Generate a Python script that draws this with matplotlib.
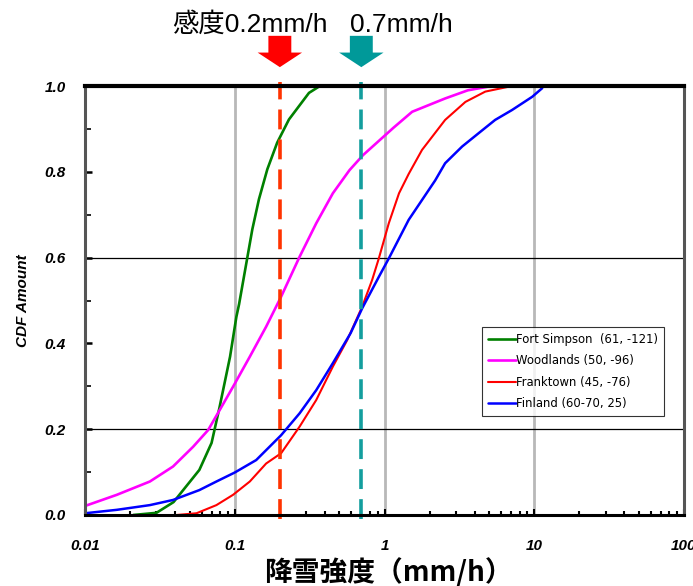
import matplotlib
matplotlib.use("Agg")
import matplotlib.pyplot as plt
from matplotlib.ticker import FixedLocator, LogLocator, NullFormatter
from matplotlib.patches import ArrowStyle

# ---------------- data ----------------
fort_x = [0.021, 0.030, 0.039, 0.058, 0.070, 0.079, 0.093, 0.1025, 0.1068, 0.121,
          0.131, 0.145, 0.165, 0.192, 0.23, 0.313, 0.37, 1.0, 4.5]
fort_y = [0.0, 0.005, 0.03, 0.105, 0.168, 0.25, 0.369, 0.462, 0.491, 0.598,
          0.666, 0.736, 0.806, 0.868, 0.922, 0.984, 1.0, 1.0, 1.0]

wood_x = [0.01, 0.0163, 0.0271, 0.0387, 0.0527, 0.0664, 0.0794, 0.0974, 0.126, 0.162,
          0.204, 0.271, 0.35, 0.452, 0.584, 0.719, 1.15, 1.53, 2.54, 3.6, 5.2, 8.0]
wood_y = [0.021, 0.047, 0.078, 0.113, 0.159, 0.198, 0.245, 0.299, 0.369, 0.439,
          0.509, 0.602, 0.68, 0.75, 0.804, 0.839, 0.903, 0.94, 0.971, 0.99, 1.0, 1.0]

frank_x = [0.041, 0.0555, 0.0754, 0.0974, 0.126, 0.162, 0.204, 0.271, 0.35, 0.452,
           0.564, 0.71, 0.827, 0.916, 1.068, 1.25, 1.45, 1.78, 2.54, 3.47, 4.71, 7.1, 10.5]
frank_y = [0.0, 0.004, 0.023, 0.047, 0.078, 0.12, 0.144, 0.206, 0.268, 0.346,
           0.408, 0.486, 0.548, 0.598, 0.68, 0.75, 0.795, 0.851, 0.921, 0.963, 0.987, 1.0, 1.0]

fin_x = [0.01, 0.0163, 0.0271, 0.0387, 0.058, 0.0754, 0.1, 0.139, 0.204, 0.271,
         0.35, 0.452, 0.594, 0.71, 0.916, 1.068, 1.45, 2.18, 2.54, 3.3, 4.25, 5.48,
         7.1, 9.7, 11.3]
fin_y = [0.004, 0.012, 0.023, 0.035, 0.058, 0.078, 0.099, 0.128, 0.186, 0.237,
         0.291, 0.354, 0.424, 0.482, 0.555, 0.598, 0.688, 0.78, 0.82, 0.859, 0.89,
         0.921, 0.944, 0.975, 0.995]

labels = ["Fort Simpson  (61, -121)", "Woodlands (50, -96)",
          "Franktown (45, -76)", "Finland (60-70, 25)"]
colors = ["#008000", "#FF00FF", "#FF0000", "#0000FF"]

sens_values = [0.2, 0.7]
sens_labels = ["感度0.2mm/h", "0.7mm/h"]
sens_line_colors = ["#FF3300", "#139E9E"]
sens_arrow_colors = ["#FF0000", "#009999"]

xticks = [0.01, 0.1, 1, 10, 100]
xtick_labels = ["0.01", "0.1", "1", "10", "100"]
yticks = [0.0, 0.2, 0.4, 0.6, 0.8, 1.0]
ytick_labels = ["0.0", "0.2", "0.4", "0.6", "0.8", "1.0"]
hlines = [0.2, 0.6]
vgrid = [0.1, 1, 10]

# ---------------- figure ----------------
plt.rcParams['font.family'] = ['Liberation Sans', 'Noto Sans CJK JP', 'DejaVu Sans']
fig = plt.figure(figsize=(6.93, 5.86), dpi=100)
ax = fig.add_axes([0.1227, 0.1212, 0.8643, 0.732])

ax.set_xscale('log')
ax.set_xlim(0.01, 100)
ax.set_ylim(0, 1)

for v in vgrid:
    ax.axvline(v, color='#B8B8B8', lw=2.0, zorder=1)
for h in hlines:
    ax.axhline(h, color='black', lw=0.9, zorder=1)

series = [(fort_x, fort_y), (wood_x, wood_y), (frank_x, frank_y), (fin_x, fin_y)]
lws = [1.9, 1.9, 1.5, 1.8]
for (xs, ys), lab, c, lw in zip(series, labels, colors, lws):
    ax.plot(xs, ys, color=c, lw=lw, label=lab, zorder=3,
            solid_joinstyle='round', solid_capstyle='round')

for v, c in zip(sens_values, sens_line_colors):
    ax.plot([v, v], [-0.01, 1.01], color=c, lw=2.6, dashes=(5.5, 2.8),
            clip_on=False, zorder=4)

# arrows and labels above
for v, c in zip(sens_values, sens_arrow_colors):
    ax.annotate('', xy=(v, 1.044), xycoords=('data', 'axes fraction'),
                xytext=(v, 1.117), textcoords=('data', 'axes fraction'),
                arrowprops=dict(arrowstyle=ArrowStyle.Simple(head_length=10.5, head_width=32,
                                                             tail_width=16.5),
                                mutation_scale=1, color=c, shrinkA=0, shrinkB=0, lw=0),
                annotation_clip=False)

fig.text(172 / 693, 1 - 32 / 586, sens_labels[0], fontsize=19, ha='left', va='baseline',
         family=['Liberation Sans', 'Noto Sans CJK JP'])
fig.text(350 / 693, 1 - 32 / 586, sens_labels[1], fontsize=19, ha='left', va='baseline',
         family=['Liberation Sans', 'Noto Sans CJK JP'])

# spines
ax.spines['top'].set_linewidth(3.0)
ax.spines['top'].set_color('black')
ax.spines['bottom'].set_linewidth(2.2)
ax.spines['bottom'].set_color('black')
ax.spines['left'].set_linewidth(2.2)
ax.spines['left'].set_color('#555555')
ax.spines['right'].set_linewidth(2.2)
ax.spines['right'].set_color('#555555')
for s in ax.spines.values():
    s.set_zorder(5)

# ticks
ax.xaxis.set_major_locator(FixedLocator(xticks))
ax.set_xticklabels(xtick_labels)
ax.xaxis.set_minor_locator(LogLocator(base=10, subs=range(2, 10)))
ax.xaxis.set_minor_formatter(NullFormatter())
ax.yaxis.set_major_locator(FixedLocator(yticks))
ax.set_yticklabels(ytick_labels)
ax.yaxis.set_minor_locator(FixedLocator([0.1, 0.3, 0.5, 0.7, 0.9]))
ax.tick_params(axis='x', which='major', direction='in', length=4, width=1.5, pad=17,
               top=False)
ax.tick_params(axis='x', which='minor', direction='in', length=3, width=1.5, top=False)
ax.tick_params(axis='y', which='major', direction='in', length=5, width=1.8, pad=14,
               right=False)
ax.tick_params(axis='y', which='minor', direction='in', length=4, width=1.2, right=False)
for lab in ax.get_xticklabels() + ax.get_yticklabels():
    lab.set_fontweight('bold')
    lab.set_fontstyle('italic')
    lab.set_fontsize(11)

ax.set_ylabel('CDF Amount', fontsize=11, fontweight='bold', fontstyle='italic', labelpad=10)
fig.text(388 / 693, 1 - 573 / 586, '降雪強度（mm/h）', fontsize=20, fontweight='bold',
         fontstyle='italic', ha='center', va='center',
         family=['Noto Sans CJK JP', 'Liberation Sans'])

leg = ax.legend(loc='upper left', bbox_to_anchor=((482 - 85) / 599, 1 - (327 - 86) / 429),
                prop={'family': 'DejaVu Sans', 'size': 8.4}, frameon=True, fancybox=False,
                shadow=False, handlelength=2.4, handletextpad=0.0, labelspacing=0.72,
                borderpad=0.5, borderaxespad=0)
leg.get_frame().set_edgecolor('black')
leg.get_frame().set_linewidth(0.8)
leg.set_zorder(6)

fig.savefig('out.png', dpi=100)
